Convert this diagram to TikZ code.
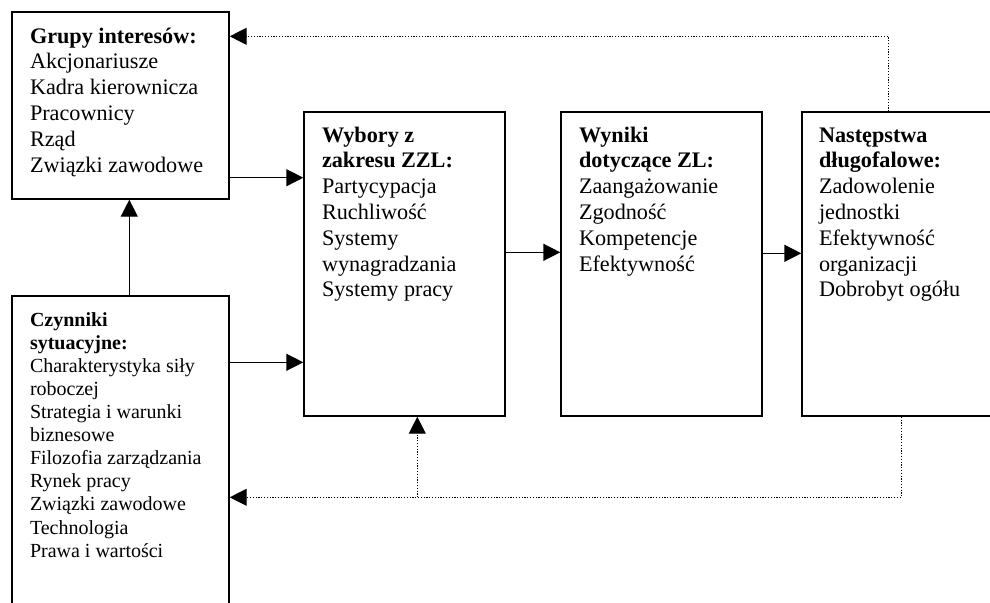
\documentclass[tikz,border=0pt]{standalone}
\usepackage{fontspec}
\setmainfont{Liberation Serif}
\usetikzlibrary{arrows.meta}

\begin{document}
\begin{tikzpicture}
			[x=0.5pt,y=-0.5pt,line width=0.7pt,
			 box/.style={draw, rectangle, inner sep=0pt},
			 txt/.style={anchor=north west, align=left, inner sep=0pt, font=\fontsize{11.1}{12.9}\selectfont},
			 txts/.style={txt, font=\fontsize{10}{11.55}\selectfont},
			 arr/.style={-{Triangle[length=8.5pt,width=8.5pt]}},
			 dots/.style={arr, line width=0.6pt, dash pattern=on 0.6pt off 0.8pt}]
			\useasboundingbox (0,0) rectangle (990,602);
			\clip (0,0) rectangle (990,602);

			% boxes
			\node[box, minimum width=108.5pt, minimum height=93.5pt] (gr)  at (120.5,105.5) {};
			\node[box, minimum width=100.5pt, minimum height=152pt]  (wyb) at (404.5,264)   {};
			\node[box, minimum width=100.5pt, minimum height=152pt]  (wyn) at (661.5,264)   {};
			\node[box, minimum width=100.5pt, minimum height=152pt]  (nas) at (902.5,264)   {};
			\node[box, minimum width=108.5pt, minimum height=165pt]  (czy) at (120.5,461)   {};

			% texts
			\node[txt] (gr-t) at ([shift={(18,13)}]gr.north west)
				{\strut\textbf{Grupy interesów:}\\Akcjonariusze\\Kadra kierownicza\\Pracownicy\\Rząd\\Związki zawodowe};
			\node[txt] (wyb-t) at ([shift={(18,12)}]wyb.north west)
				{\strut\textbf{Wybory z}\\\textbf{zakresu ZZL:}\\Partycypacja\\Ruchliwość\\Systemy\\wynagradzania\\Systemy pracy};
			\node[txt] (wyn-t) at ([shift={(18,12)}]wyn.north west)
				{\strut\textbf{Wyniki}\\\textbf{dotyczące ZL:}\\Zaangażowanie\\Zgodność\\Kompetencje\\Efektywność};
			\node[txt] (nas-t) at ([shift={(17,12)}]nas.north west)
				{\strut\textbf{Następstwa}\\\textbf{długofalowe:}\\Zadowolenie\\jednostki\\Efektywność\\organizacji\\Dobrobyt ogółu};
			\node[txts] (czy-t) at ([shift={(18,14)}]czy.north west)
				{\strut\textbf{Czynniki}\\\textbf{sytuacyjne:}\\Charakterystyka siły\\roboczej\\Strategia i warunki\\biznesowe\\Filozofia zarządzania\\Rynek pracy\\Związki zawodowe\\Technologia\\Prawa i wartości};

			% connectors
			\coordinate (a1) at ([shift={(0,-22)}]gr.south east);
			\coordinate (a2) at ([shift={(0,141)}]wyb.north east);
			\coordinate (a3) at ([shift={(0,142)}]wyn.north east);
			\coordinate (a4) at ([shift={(0,67)}]czy.north east);
			\foreach \from/\to in {a1/wyb,a2/wyn,a3/nas,a4/wyb}
				\draw[arr] (\from) -- (\from -| \to.west);
			\coordinate (up) at ([shift={(118,2)}]czy.north west);
			\draw[arr] (up) -- (up |- gr.south);

			\coordinate (t1) at ([shift={(87,0)}]nas.north west);
			\coordinate (t2) at ([shift={(0,25)}]gr.north east);
			\draw[dots] (t1) |- (t2);
			\coordinate (b1) at ([shift={(100,0)}]nas.south west);
			\coordinate (b2) at ([shift={(0,202)}]czy.north east);
			\coordinate (b3) at ([shift={(114,0)}]wyb.south west);
			\draw[dots] (b1) |- (b2);
			\draw[dots] (b3 |- b2) -- (b3);
		\end{tikzpicture}
\end{document}
